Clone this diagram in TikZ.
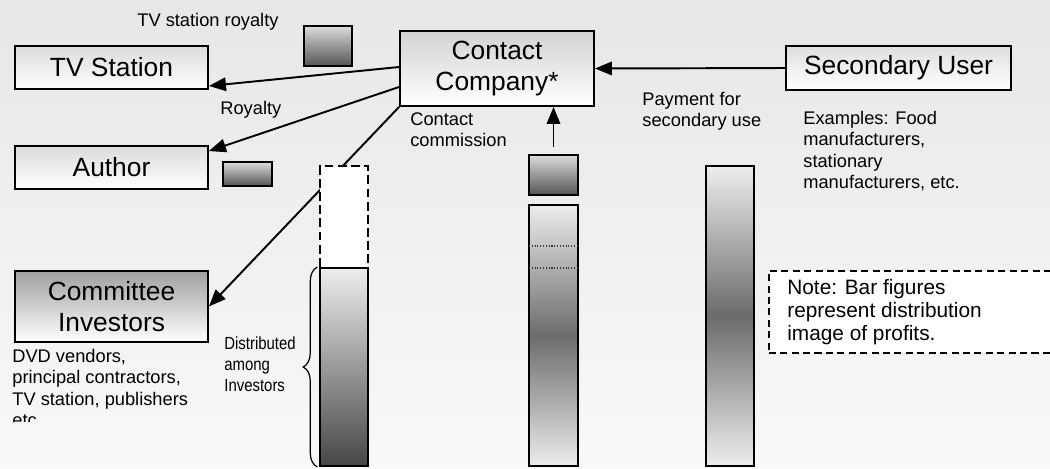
\documentclass[tikz,border=0pt]{standalone}
\usepackage{fontspec}
\setmainfont{Liberation Sans}
\newfontfamily\narrowfont[FakeStretch=0.85]{Liberation Sans}
\usetikzlibrary{arrows.meta,calc,decorations.pathreplacing}

\definecolor{chiptop}{gray}{0.86}
\definecolor{chipbot}{gray}{0.33}
\definecolor{barlight}{gray}{0.93}
\definecolor{bardark}{gray}{0.42}

\begin{document}
\begin{tikzpicture}[x=0.02cm, y=-0.02cm,
    party/.style={draw, line width=1.1pt, top color=gray!28, bottom color=white,
        font=\fontsize{15}{17.5}\selectfont, align=center, inner sep=0pt},
    money/.style={-{Triangle[length=3.4mm,width=2.7mm]}, line width=1.1pt},
    chip/.style={draw, line width=1.1pt, top color=chiptop, bottom color=chipbot,
        inner sep=0pt},
    bar/.style={draw, line width=1.1pt, inner sep=0pt, minimum width=0.96cm},
    small/.style={font=\fontsize{10.4}{12.1}\selectfont, inner sep=0pt, align=left}
]

% ============================================
% 0. TLO
% ============================================
\clip (0,0) rectangle (1050,468);
\shade[top color=gray!19, bottom color=gray!5] (0,0) rectangle (1050,468);

% ============================================
% 1. UCZESTNICY
% ============================================
\node[party, minimum width=3.86cm, minimum height=0.86cm] (tv) at (111.5,67.5) {TV Station};
\node[party, minimum width=3.86cm, minimum height=0.86cm] (author) at (111.5,167.5) {Author};
\node[party, minimum width=3.86cm, minimum height=1.42cm, top color=gray!75] (committee)
    at (111.5,306.5) {Committee\\Investors};
\node[party, minimum width=3.88cm, minimum height=1.5cm, top color=gray!35] (contact)
    at (497,68.5) {Contact\\Company*};
\node[party, minimum width=4.5cm, minimum height=0.88cm, top color=gray!25] (secondary)
    at (898.5,68) {Secondary User};

% ============================================
% 2. PRZEPLYWY
% ============================================
\draw[money] ($(contact.west)+(0,-1.5)$) -- ($(tv.south east)+(0,-4)$);
\draw[money] ($(contact.west)+(0,18.5)$) -- ($(author.north east)+(0,6)$);
\draw[money] (contact.south west) -- (committee.east);
\draw[money] (secondary.west) -- (contact.east);

% ============================================
% 3. SLUPKI
% ============================================
\node[chip, minimum width=0.96cm, minimum height=0.8cm] (tvchip) at (328,46) {};
\node[chip, minimum width=0.98cm, minimum height=0.48cm] (authorchip) at (247.5,174) {};
\node[chip, minimum width=0.98cm, minimum height=0.8cm] (midchip) at (553.5,175) {};

\draw[money] ($(midchip.north)+(0,-7)$) -- (midchip.north |- contact.south);

% slupek inwestorow
\node[bar, dash pattern=on 5pt off 2.5pt, fill=white, minimum height=2.04cm] (commission)
    at (344,217) {};
\node[bar, minimum height=3.96cm, top color=barlight, bottom color=gray!55!black] (invbar)
    at (344,367) {};
\draw[decorate, decoration={brace, amplitude=8pt}, line width=0.7pt]
    ([xshift=-1pt]invbar.south west) -- ([xshift=-1pt]invbar.north west);

% slupek srodkowy
\node[bar, minimum width=0.98cm, minimum height=5.22cm, top color=barlight,
    bottom color=barlight, middle color=bardark] (midbar) at (553.5,335.5) {};
\draw[gray!45!black, densely dotted, line width=0.6pt] (529,246) -- (578,246);
\draw[gray!45!black, densely dotted, line width=0.6pt] (529,268) -- (578,268);

% slupek uzytkownika wtornego
\node[bar, minimum height=6cm, top color=barlight, bottom color=barlight,
    middle color=bardark] (secbar) at (730,316) {};

% ============================================
% 4. OPISY
% ============================================
\node[small, anchor=base west] (tvroyalty) at (137,26) {TV station royalty};
\node[small, anchor=base west] (royalty) at (220,114) {Royalty};
\node[small, anchor=north west] (commtext) at (410,112) {Contact\\commission};
\node[small, anchor=north west] (paytext) at (642,91.5) {Payment for\\secondary use};
\node[small, anchor=north west] (examples) at (803,111)
    {Examples: Food\\manufacturers,\\stationary\\manufacturers, etc.};
\begin{scope}
    \clip (0,0) rectangle (300,421);
    \node[small, anchor=north west] (investors) at (12,349)
        {DVD vendors,\\principal contractors,\\TV station, publishers\\etc.};
\end{scope}
\node[inner sep=0pt, align=left, font=\narrowfont\fontsize{10}{12.2}\selectfont,
    anchor=north west] (distributed) at (224,336) {Distributed\\among\\Investors};

% uwaga
\node[draw, line width=0.9pt, dash pattern=on 4pt off 2.5pt, fill=white,
    anchor=north west, minimum width=6cm, minimum height=1.64cm] (notebox) at (768,270) {};
\node[inner sep=0pt, align=left, font=\fontsize{11.85}{13}\selectfont,
    anchor=north west] (note) at (787,279)
    {Note: Bar figures\\represent distribution\\image of profits.};

\end{tikzpicture}
\end{document}
